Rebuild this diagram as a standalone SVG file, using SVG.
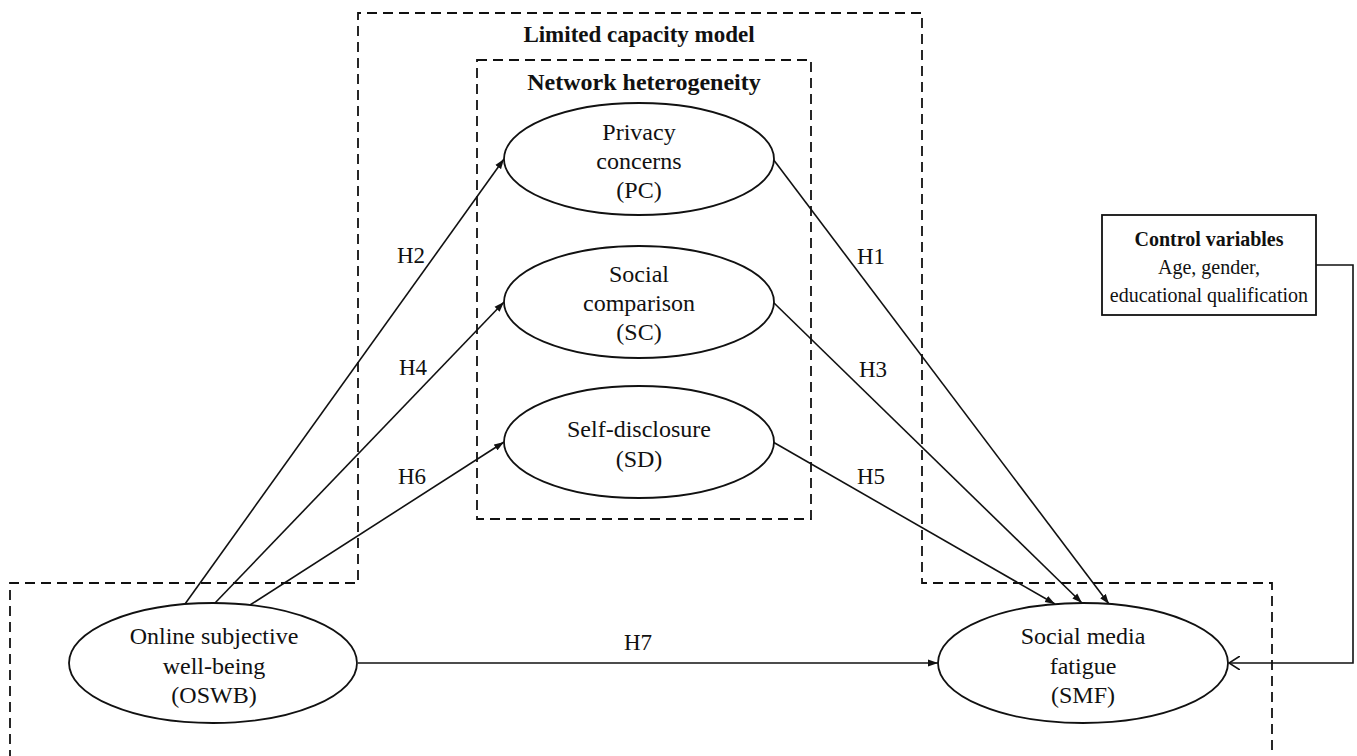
<svg xmlns="http://www.w3.org/2000/svg" width="1357" height="756" viewBox="0 0 1357 756">
<style>
text{font-family:"Liberation Serif","Times New Roman",serif;fill:#111;text-anchor:middle}
.t{font-size:24px}
.b{font-size:24px;font-weight:bold}
.c{font-size:20px}
.cb{font-size:20px;font-weight:bold}
.h{font-size:23px}
.dash{fill:none;stroke:#111;stroke-width:1.8;stroke-dasharray:10 6}
.node{fill:#fff;stroke:#111;stroke-width:1.8}
.edge{fill:none;stroke:#111;stroke-width:1.6}
</style>
<defs>
<marker id="arr" markerUnits="userSpaceOnUse" markerWidth="11" markerHeight="8" refX="10" refY="4" orient="auto">
<path d="M0,0.5 L10,4 L0,7.5 z" fill="#111"/>
</marker>
<marker id="open" markerUnits="userSpaceOnUse" markerWidth="12" markerHeight="14" refX="11" refY="7" orient="auto">
<path d="M0,0 L11,7 L0,14" fill="none" stroke="#111" stroke-width="1.6"/>
</marker>
</defs>
<rect width="1357" height="756" fill="#fff"/>
<g id="frames">
<path class="dash" d="M10,760 L10,583 L358,583 L358,13 L922,13 L922,583 L1272,583 L1272,760"/>
<text class="b" x="639" y="42" style="font-size:23px">Limited capacity model</text>
<rect class="dash" x="477" y="60" width="334" height="459"/>
<text class="b" x="644" y="90">Network heterogeneity</text>
</g>
<g id="connectors">
<line class="edge" x1="185" y1="604" x2="504" y2="159" marker-end="url(#arr)"/>
<line class="edge" x1="215" y1="603" x2="504" y2="302" marker-end="url(#arr)"/>
<line class="edge" x1="250" y1="605" x2="504" y2="442" marker-end="url(#arr)"/>
<line class="edge" x1="773" y1="159" x2="1109" y2="604" marker-end="url(#arr)"/>
<line class="edge" x1="773" y1="302" x2="1082" y2="603" marker-end="url(#arr)"/>
<line class="edge" x1="773" y1="442" x2="1055" y2="604" marker-end="url(#arr)"/>
<line class="edge" x1="358" y1="663" x2="938" y2="663" marker-end="url(#arr)"/>
<path class="edge" d="M1316,265 L1353,265 L1353,663 L1229,663" marker-end="url(#open)"/>
<text class="h" x="411" y="263">H2</text>
<text class="h" x="413" y="375">H4</text>
<text class="h" x="412" y="484">H6</text>
<text class="h" x="871" y="264">H1</text>
<text class="h" x="873" y="377">H3</text>
<text class="h" x="871" y="484">H5</text>
<text class="h" x="638" y="650">H7</text>
</g>
<g id="pc">
<ellipse class="node" cx="639" cy="159" rx="135" ry="56"/>
<text class="t" x="639" y="140">Privacy</text>
<text class="t" x="639" y="169">concerns</text>
<text class="t" x="639" y="198">(PC)</text>
</g>
<g id="sc">
<ellipse class="node" cx="639" cy="302" rx="135" ry="56"/>
<text class="t" x="639" y="282">Social</text>
<text class="t" x="639" y="311">comparison</text>
<text class="t" x="639" y="340">(SC)</text>
</g>
<g id="sd">
<ellipse class="node" cx="639" cy="442" rx="135" ry="56"/>
<text class="t" x="639" y="437">Self-disclosure</text>
<text class="t" x="639" y="467">(SD)</text>
</g>
<g id="oswb">
<ellipse class="node" cx="213" cy="663" rx="144" ry="60"/>
<text class="t" x="214" y="644">Online subjective</text>
<text class="t" x="214" y="674">well-being</text>
<text class="t" x="214" y="703">(OSWB)</text>
</g>
<g id="smf">
<ellipse class="node" cx="1083" cy="663" rx="145" ry="60"/>
<text class="t" x="1083" y="644">Social media</text>
<text class="t" x="1083" y="674">fatigue</text>
<text class="t" x="1083" y="703">(SMF)</text>
</g>
<g id="control">
<rect class="node" x="1102" y="215" width="214" height="100"/>
<text class="cb" x="1209" y="246">Control variables</text>
<text class="c" x="1209" y="274">Age, gender,</text>
<text class="c" x="1209" y="302">educational qualification</text>
</g>
</svg>
